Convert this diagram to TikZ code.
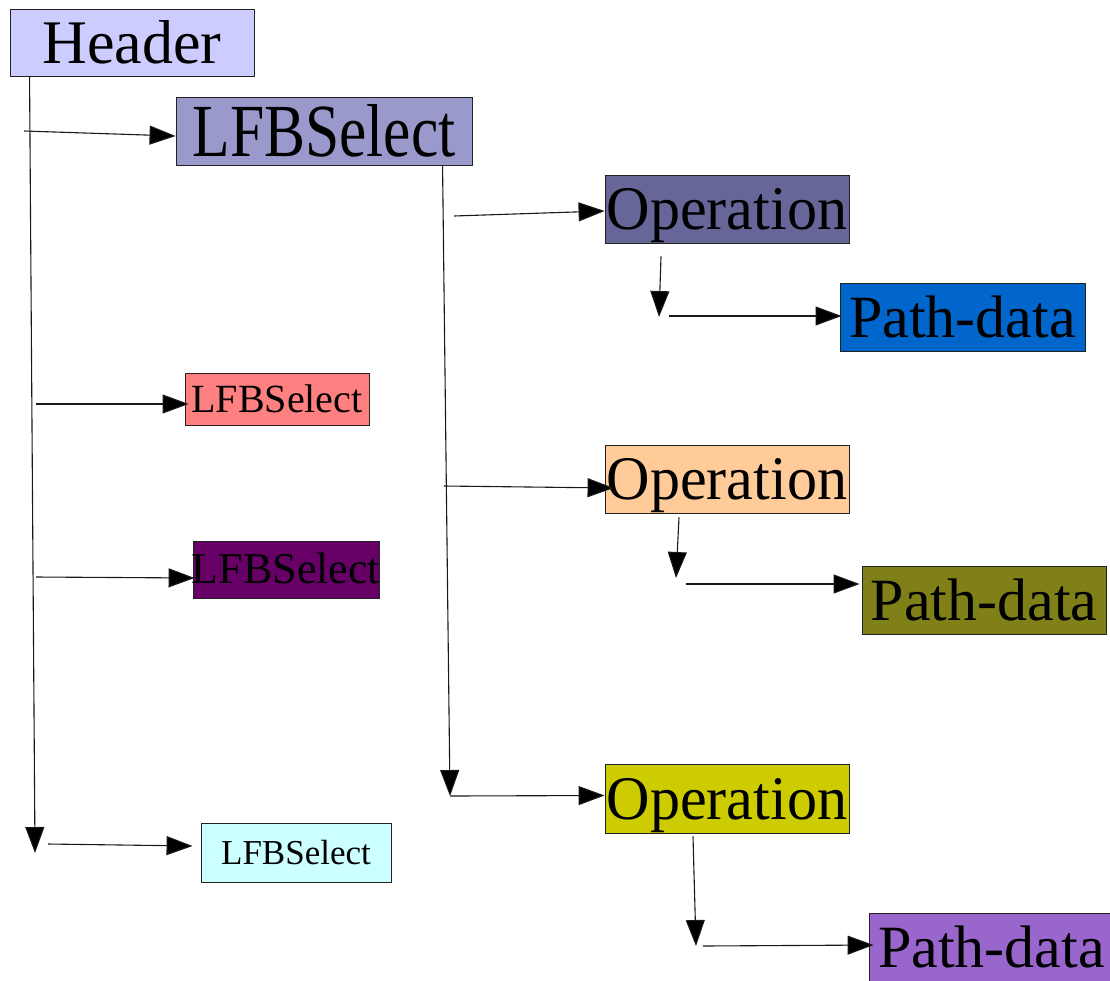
\documentclass[tikz,border=0pt]{standalone}
\usepackage{fontspec}
\setmainfont{Liberation Serif}
\usetikzlibrary{arrows.meta}
\definecolor{cHeader}{HTML}{CCCCFF}
\definecolor{cLfb}{HTML}{9999CC}
\definecolor{cOpT}{HTML}{666699}
\definecolor{cPT}{HTML}{0066CC}
\definecolor{cRed}{HTML}{FF8080}
\definecolor{cPur}{HTML}{660066}
\definecolor{cPeach}{HTML}{FFCC99}
\definecolor{cOlive}{HTML}{808019}
\definecolor{cYel}{HTML}{CCCC00}
\definecolor{cPB}{HTML}{9966CC}
\definecolor{cCyan}{HTML}{CCFFFF}
\definecolor{border}{HTML}{222222}
\newcommand\mytxt[2]{\makebox[0pt]{\scalebox{#1}[1]{#2}}}
\tikzset{
  bx/.style={draw=border, line width=0.9pt, inner sep=0pt, text depth=0pt, anchor=center},
  arr/.style={draw=black!90, line width=1.1pt, -{Triangle[length=26pt,width=19pt,fill=black]}},
}
\begin{document}
\begin{tikzpicture}[x=1pt,y=-1pt]
\useasboundingbox (0,0) rectangle (1110,980);
% nodes
\node[bx, fill=cHeader, minimum width=244, minimum height=67, text height=41,
      font=\fontsize{62}{62}\selectfont] (header) at (132,42.5) {\mytxt{1}{Header}};
\node[bx, fill=cLfb, minimum width=296, minimum height=68, text height=50,
      font=\fontsize{75}{75}\selectfont] (lfb) at (324,131) {\mytxt{0.82}{LFBSelect}};
\node[bx, fill=cOpT, minimum width=244, minimum height=68, text height=41,
      font=\fontsize{62}{62}\selectfont] (opT) at (727,209) {\mytxt{0.97}{Operation}};
\node[bx, fill=cPT, minimum width=245, minimum height=68, text height=40,
      font=\fontsize{60}{60}\selectfont] (pT) at (962.5,317) {\mytxt{1}{Path-data}};
\node[bx, fill=cRed, minimum width=184, minimum height=52, text height=26,
      font=\fontsize{40}{40}\selectfont] (red) at (277,399) {\mytxt{1}{LFBSelect}};
\node[bx, fill=cPur, minimum width=186, minimum height=57, text height=28,
      font=\fontsize{44}{44}\selectfont] (pur) at (286,569.5) {\mytxt{1}{LFBSelect}};
\node[bx, fill=cPeach, minimum width=244, minimum height=68, text height=41,
      font=\fontsize{62}{62}\selectfont] (opP) at (727,479) {\mytxt{0.97}{Operation}};
\node[bx, fill=cOlive, minimum width=244, minimum height=68, text height=40,
      font=\fontsize{60}{60}\selectfont] (pO) at (984,600) {\mytxt{1}{Path-data}};
\node[bx, fill=cYel, minimum width=244, minimum height=69, text height=41,
      font=\fontsize{62}{62}\selectfont] (opY) at (727,798.5) {\mytxt{0.97}{Operation}};
\node[bx, fill=cPB, minimum width=245, minimum height=68, text height=40,
      font=\fontsize{60}{60}\selectfont] (pB) at (991.5,947) {\mytxt{1}{Path-data}};
\node[bx, fill=cCyan, minimum width=190, minimum height=59, text height=24,
      font=\fontsize{35}{35}\selectfont] (cyan) at (296,852.5) {\mytxt{1}{LFBSelect}};
% free ends
\coordinate (hEnd) at (35,853);
\coordinate (a1) at (24,131);
\coordinate (a2) at (36,404);
\coordinate (a3) at (36,577);
\coordinate (a4) at (48,844);
\coordinate (lEnd) at (450,796);
\coordinate (b1) at (454,216);
\coordinate (b2) at (444,486);
\coordinate (dT) at (659,317);
\coordinate (eT) at (669,316);
\coordinate (dP) at (676,578);
\coordinate (eP) at (686,584);
\coordinate (dY) at (696,946);
\coordinate (eY) at (703,946);
% connectors
\draw[arr] ([xshift=20pt]header.south west) -- (hEnd);
\draw[arr] (a1) -- ([shift={(0,5)}]lfb.west);
\draw[arr] (a2) -- ([shift={(4,5)}]red.west);
\draw[arr] (a3) -- ([shift={(2,8.5)}]pur.west);
\draw[arr] (a4) -- ([shift={(-8,-6.5)}]cyan.west);
\draw[arr] ([xshift=267pt]lfb.south west) -- (lEnd);
\draw[arr] (lEnd) -- ([shift={(0,-3)}]opY.west);
\draw[arr] (b1) -- ([shift={(0,2)}]opT.west);
\draw[arr] (b2) -- ([shift={(9,9)}]opP.west);
\draw[arr] ([shift={(-66,13)}]opT.south) -- (dT);
\draw[arr] (eT) -- ([shift={(2,-1)}]pT.west);
\draw[arr] ([shift={(-48,4)}]opP.south) -- (dP);
\draw[arr] (eP) -- ([shift={(-2,-16)}]pO.west);
\draw[arr] ([shift={(-34,3)}]opY.south) -- (dY);
\draw[arr] (eY) -- ([shift={(5,-2)}]pB.west);
\end{tikzpicture}
\end{document}
